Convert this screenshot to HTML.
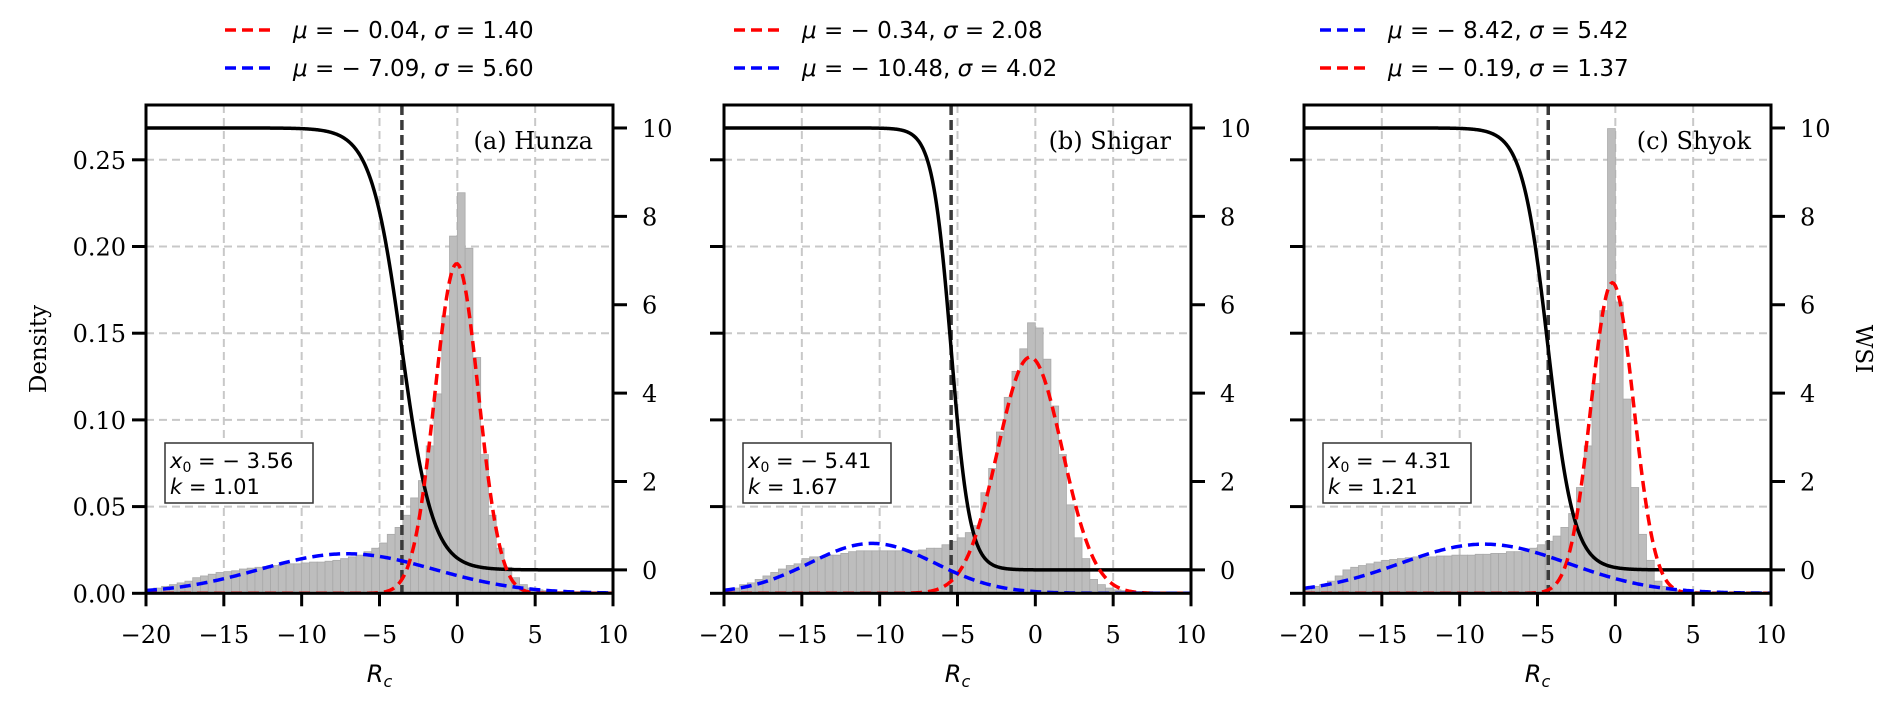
<!DOCTYPE html>
<html><head><meta charset="utf-8"><title>Rc density and WSI</title>
<style>html,body{margin:0;padding:0;background:#fff}svg{display:block}</style></head>
<body>
<svg id="fig" width="1892" height="708" viewBox="0 0 1892 708" xmlns="http://www.w3.org/2000/svg">
<text x="0" y="0" transform="translate(46,349) rotate(-90)" text-anchor="middle" font-family="DejaVu Serif, serif" font-size="23">Density</text>
<text x="0" y="0" transform="translate(1856,349) rotate(90)" text-anchor="middle" font-family="DejaVu Serif, serif" font-size="23">WSI</text>
</svg>
<script>
// ---- data ----
const panelTitles = ["(a) Hunza", "(b) Shigar", "(c) Shyok"];
const binStart = -20, binWidth = 0.5;
const histA = [0.002,0.003,0.004,0.005,0.006,0.007,0.009,0.010,0.011,0.012,
  0.0125,0.013,0.014,0.0145,0.015,0.0155,0.016,0.0165,0.017,0.017,
  0.0175,0.018,0.018,0.0185,0.019,0.020,0.021,0.022,0.024,0.026,
  0.029,0.034,0.038,0.045,0.055,0.065,0.085,0.115,0.160,0.206,
  0.231,0.199,0.136,0.080,0.045,0.026,0.015,0.009,0.005,0.003,
  0.002,0.0015,0.001,0.001,0.001,0.0008,0.0005,0.0003,0.0002,0.0001];
const histB = [0.002,0.003,0.005,0.006,0.008,0.010,0.012,0.014,0.016,0.017,
  0.020,0.021,0.021,0.022,0.022,0.023,0.024,0.0245,0.0245,0.0245,
  0.0245,0.0245,0.0245,0.0245,0.0245,0.025,0.026,0.026,0.028,0.030,
  0.032,0.035,0.039,0.058,0.072,0.093,0.113,0.128,0.141,0.156,
  0.153,0.135,0.108,0.080,0.051,0.032,0.020,0.008,0.005,0.003,
  0.002,0.0015,0.001,0.001,0.0008,0.0005,0.0004,0.0003,0.0002,0.0001];
const histC = [0.003,0.004,0.005,0.007,0.010,0.0135,0.015,0.016,0.017,0.018,
  0.019,0.0195,0.020,0.0205,0.021,0.021,0.021,0.0215,0.0215,0.022,
  0.022,0.022,0.0225,0.0225,0.023,0.023,0.024,0.024,0.024,0.026,
  0.028,0.030,0.033,0.038,0.046,0.061,0.085,0.121,0.163,0.268,
  0.168,0.112,0.061,0.034,0.019,0.007,0.004,0.002,0.0015,0.001,
  0.001,0.0008,0.0006,0.0005,0.0004,0.0003,0.0002,0.0002,0.0001,0.0001];
const hists = [histA, histB, histC];
const redMu = [-0.04, -0.34, -0.19];
const redSigma = [1.40, 2.08, 1.37];
const redWeight = [0.667, 0.71, 0.615];
const blueMu = [-7.09, -10.48, -8.42];
const blueSigma = [5.60, 4.02, 5.42];
const blueWeight = [0.32, 0.29, 0.385];
const sigX0 = [-3.56, -5.41, -4.31];
const sigK = [1.01, 1.67, 1.21];
const sigMax = 10;
const xTicks = [-20, -15, -10, -5, 0, 5, 10];
const densityTicks = [0, 0.05, 0.10, 0.15, 0.20, 0.25];
const wsiTicks = [0, 2, 4, 6, 8, 10];
const legendOrder = [["red","blue"],["red","blue"],["blue","red"]];

// ---- layout ----
const NS = "http://www.w3.org/2000/svg";
const svg = document.getElementById("fig");
const lefts = [146, 724, 1304], W = 467, TOP = 105, BOT = 593.3;
const legendX = [225, 734, 1320];
const xMin = -20, xMax = 10, dMin = 0, dMax = (BOT - TOP) / 1734, wMin = -0.53, wMax = 10.52;
function mk(tag, attrs, parent) {
  const e = document.createElementNS(NS, tag);
  for (const k in attrs) e.setAttribute(k, attrs[k]);
  (parent || svg).appendChild(e);
  return e;
}
function gauss(x, m, s, w) { return w * Math.exp(-(x - m) * (x - m) / (2 * s * s)) / (s * Math.sqrt(2 * Math.PI)); }
const SERIF = "DejaVu Serif, Liberation Serif, serif";
const FS = 24;

for (let p = 0; p < 3; p++) {
  const L = lefts[p], R = L + W;
  const sx = x => L + (x - xMin) / (xMax - xMin) * W;
  const sy = d => BOT - (d - dMin) / (dMax - dMin) * (BOT - TOP);
  const sw = v => BOT - (v - wMin) / (wMax - wMin) * (BOT - TOP);
  const g = mk("g", {});
  
  
  const clipId = "clip" + p;
  const cp = mk("clipPath", {id: clipId}, g);
  mk("rect", {x: L, y: TOP, width: W, height: BOT - TOP}, cp);
  xTicks.forEach(t => {
    const l = mk("line", {x1: sx(t), x2: sx(t), y1: TOP, y2: BOT, stroke: "#c8c8c8", "stroke-width": 2, "stroke-dasharray": "8,5"}, g);
    
    
  });
  densityTicks.forEach(t => {
    const l = mk("line", {x1: L, x2: R, y1: sy(t), y2: sy(t), stroke: "#c8c8c8", "stroke-width": 2, "stroke-dasharray": "8,5"}, g);
    
    
  });
  const plot = mk("g", {"clip-path": "url(#" + clipId + ")"}, g);
  hists[p].forEach((v, i) => {
    const x0 = binStart + i * binWidth;
    const r = mk("rect", {x: sx(x0), y: sy(v), width: sx(x0 + binWidth) - sx(x0), height: sy(0) - sy(v), fill: "#bdbdbd", stroke: "#a9a9a9", "stroke-width": 0.8}, plot);
    
    
  });
  const vl = mk("line", {x1: sx(sigX0[p]), x2: sx(sigX0[p]), y1: TOP, y2: BOT, stroke: "#3a3a3a", "stroke-width": 3.5, "stroke-dasharray": "10,5"}, plot);
  
  
  let ds = "";
  for (let i = 0; i <= 600; i++) { const x = xMin + i * (xMax - xMin) / 600; const v = sigMax / (1 + Math.exp(sigK[p] * (x - sigX0[p]))); ds += (i ? "L" : "M") + sx(x).toFixed(2) + "," + sw(v).toFixed(2); }
  const sp = mk("path", {d: ds, fill: "none", stroke: "#000", "stroke-width": 3.5}, plot);
  
  
  [["red", redMu, redSigma, redWeight], ["blue", blueMu, blueSigma, blueWeight]].forEach(([col, mu, sg, wt]) => {
    let d = "";
    for (let i = 0; i <= 300; i++) { const x = xMin + i * (xMax - xMin) / 300; d += (i ? "L" : "M") + sx(x).toFixed(2) + "," + sy(gauss(x, mu[p], sg[p], wt[p])).toFixed(2); }
    const gp = mk("path", {d: d, fill: "none", stroke: col === "red" ? "#ff0000" : "#0000ff", "stroke-width": 3.5, "stroke-dasharray": "11,6"}, plot);
    
    
  });
  const fr = mk("rect", {x: L, y: TOP, width: W, height: BOT - TOP, fill: "none", stroke: "#000", "stroke-width": 3}, g);
  
  
  xTicks.forEach(t => {
    mk("line", {x1: sx(t), x2: sx(t), y1: BOT, y2: BOT + 13, stroke: "#000", "stroke-width": 3}, g);
    const tx = mk("text", {x: sx(t), y: 643, "text-anchor": "middle", "font-family": SERIF, "font-size": FS}, g);
    tx.textContent = (t < 0 ? "\u2212" : "") + Math.abs(t);
    
    
  });
  densityTicks.forEach(t => {
    mk("line", {x1: L - 14, x2: L, y1: sy(t), y2: sy(t), stroke: "#000", "stroke-width": 3}, g);
    if (p === 0) {
      const tx = mk("text", {x: L - 20, y: sy(t) + 9, "text-anchor": "end", "font-family": SERIF, "font-size": FS}, g);
      tx.textContent = t.toFixed(2);
      
      
    }
  });
  wsiTicks.forEach(t => {
    mk("line", {x1: R, x2: R + 14, y1: sw(t), y2: sw(t), stroke: "#000", "stroke-width": 3}, g);
    const tx = mk("text", {x: R + 29, y: sw(t) + 9, "font-family": SERIF, "font-size": FS}, g);
    tx.textContent = String(t);
    
    
  });
  const xl = mk("text", {x: L + W / 2, y: 682, "text-anchor": "middle", "font-family": "DejaVu Sans, sans-serif", "font-size": 24, "font-style": "italic"}, g);
  xl.innerHTML = 'R<tspan font-size="16" dy="5">c</tspan>';
  
  
  const tt = mk("text", {x: R - 20, y: 149, "text-anchor": "end", "font-family": SERIF, "font-size": FS}, g);
  tt.textContent = panelTitles[p];
  
  
  const bx = mk("rect", {x: L + 19, y: 443, width: 148, height: 60, fill: "#fff", stroke: "#333", "stroke-width": 1.5}, g);
  
  
  const b1 = mk("text", {x: L + 24, y: 468, "font-family": "DejaVu Sans, sans-serif", "font-size": 21}, g);
  b1.innerHTML = '<tspan font-style="italic">x</tspan><tspan font-size="14" dy="4">0</tspan><tspan dy="-4"> = \u2212 ' + Math.abs(sigX0[p]).toFixed(2) + '</tspan>';
  
  
  const b2 = mk("text", {x: L + 24, y: 494, "font-family": "DejaVu Sans, sans-serif", "font-size": 21}, g);
  b2.innerHTML = '<tspan font-style="italic">k</tspan> = ' + sigK[p].toFixed(2);
  
  
  const lg = mk("g", {}, svg);
  
  
  legendOrder[p].forEach((col, r) => {
    const yy = 30 + r * 38;
    const mu = col === "red" ? redMu[p] : blueMu[p], sg = col === "red" ? redSigma[p] : blueSigma[p];
    mk("line", {x1: legendX[p], x2: legendX[p] + 48, y1: yy, y2: yy, stroke: col === "red" ? "#ff0000" : "#0000ff", "stroke-width": 3.5, "stroke-dasharray": "11,6"}, lg);
    const t = mk("text", {x: legendX[p] + 68, y: yy + 8, "font-family": "DejaVu Sans, sans-serif", "font-size": 23}, lg);
    t.innerHTML = '<tspan font-style="italic">\u03bc</tspan> = ' + (mu < 0 ? '\u2212 ' : '') + Math.abs(mu).toFixed(2) + ', <tspan font-style="italic">\u03c3</tspan> = ' + sg.toFixed(2);
    
    
  });
}
</script>
</body></html>
